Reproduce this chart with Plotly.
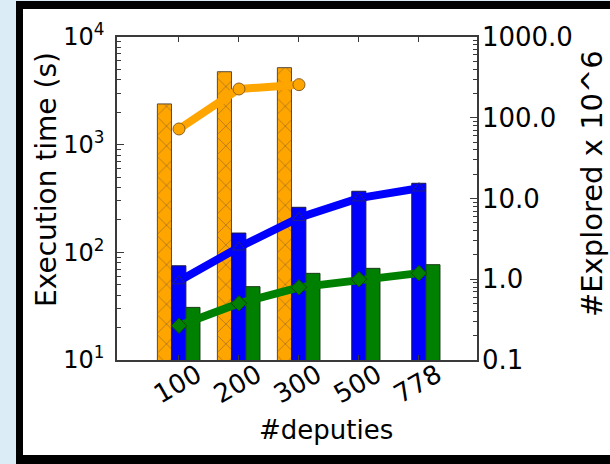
import numpy as np
import plotly.graph_objects as go

# deputies counts on the x axis
deputies = ["100", "200", "300", "500", "778"]

# execution time in seconds (left, log axis)
time_orange = [2390, 4760, 5190, None, None]
time_blue = [75, 151, 262, 369, 438]
time_green = [30.8, 48, 63.8, 71, 76.8]

# explored states, in millions (right, log axis)
explored_orange = [72.6, 227, 257, None, None]
explored_blue = [0.95, 2.49, 5.79, 10.1, 13.4]
explored_green = [0.266, 0.504, 0.794, 1.0, 1.19]

x = list(range(len(deputies)))

ORANGE = "#ffa500"
BLUE = "#0000ff"
GREEN = "#008000"
AXIS = "#3a3a3a"
FONT = "DejaVu Sans"

# plot area in pixels, used to place the slide frame around the chart
W, H = 610, 464
L, R, T, B = 117, 477, 37, 360


def px(xp):
    return (xp - L) / (R - L)


def py(yp):
    return (B - yp) / (B - T)


fig = go.Figure()

bar_w = 0.235
fig.add_trace(go.Bar(
    x=x, y=time_orange, width=bar_w, offset=-0.36, yaxis="y",
    marker=dict(color=ORANGE, line=dict(color="#5a4a3a", width=1),
                pattern=dict(shape="x", size=14, solidity=0.1,
                             fgcolor="#96682a", fgopacity=0.9, bgcolor=ORANGE)),
    showlegend=False))
fig.add_trace(go.Bar(
    x=x, y=time_blue, width=bar_w, offset=-0.12, yaxis="y",
    marker=dict(color=BLUE, line=dict(color="#1a1a40", width=1)),
    showlegend=False))
fig.add_trace(go.Bar(
    x=x, y=time_green, width=bar_w, offset=0.115, yaxis="y",
    marker=dict(color=GREEN, line=dict(color="#1a3a1a", width=1)),
    showlegend=False))

fig.add_trace(go.Scatter(
    x=x, y=explored_orange, yaxis="y2", mode="lines+markers",
    line=dict(color=ORANGE, width=8),
    marker=dict(symbol="circle", size=12, color=ORANGE,
                line=dict(color="#8a6020", width=1)),
    showlegend=False))
fig.add_trace(go.Scatter(
    x=x, y=explored_blue, yaxis="y2", mode="lines+markers",
    line=dict(color=BLUE, width=8),
    marker=dict(symbol="triangle-up", size=11, color=BLUE,
                line=dict(color="#202080", width=1)),
    showlegend=False))
fig.add_trace(go.Scatter(
    x=x, y=explored_green, yaxis="y2", mode="lines+markers",
    line=dict(color=GREEN, width=8),
    marker=dict(symbol="diamond", size=12, color=GREEN,
                line=dict(color="#104010", width=1)),
    showlegend=False))

minor_left = [k * 10 ** d for d in range(1, 4) for k in range(2, 10)]
minor_right = [k * 10.0 ** d for d in range(-1, 3) for k in range(2, 10)]

shapes = [
    # dark slide frame
    dict(type="rect", xref="paper", yref="paper", layer="below",
         x0=px(16), x1=px(W + 10), y0=py(1), y1=py(H + 10),
         fillcolor="#000000", line=dict(width=0)),
    dict(type="rect", xref="paper", yref="paper", layer="below",
         x0=px(23), x1=px(W + 10), y0=py(9), y1=py(455),
         fillcolor="#ffffff", line=dict(width=0)),
]

annotations = [
    dict(text="#deputies", xref="paper", yref="paper", x=px(326), y=py(430),
         xanchor="center", yanchor="middle", showarrow=False,
         font=dict(family=FONT, size=26, color="#000000")),
    dict(text="Execution time (s)", xref="paper", yref="paper",
         x=px(46), y=py(180), textangle=-90,
         xanchor="center", yanchor="middle", showarrow=False,
         font=dict(family=FONT, size=28, color="#000000")),
    dict(text="#Explored x 10^6", xref="paper", yref="paper",
         x=px(592), y=py(184), textangle=-90,
         xanchor="center", yanchor="middle", showarrow=False,
         font=dict(family=FONT, size=29, color="#000000")),
]

fig.update_layout(
    width=W, height=H,
    margin=dict(l=L, r=W - R, t=T, b=H - B, autoexpand=False),
    paper_bgcolor="#dbecf6",
    plot_bgcolor="#ffffff",
    barmode="overlay",
    font=dict(family=FONT, color="#000000", size=26),
    shapes=shapes,
    annotations=annotations,
    xaxis=dict(
        range=[-1.033, 4.967], tickmode="array", tickvals=x, ticktext=deputies,
        tickangle=-30, ticks="inside", ticklen=5, tickcolor=AXIS,
        showline=True, linecolor=AXIS, linewidth=1.5, mirror="ticks",
        showgrid=False, zeroline=False,
        ticklabelshift=18, ticklabelstandoff=-12,
        tickfont=dict(size=26),
    ),
    yaxis=dict(
        type="log", range=[1, 4], tickmode="array",
        tickvals=[10, 100, 1000, 10000],
        ticktext=["10<sup>1</sup>", "10<sup>2</sup>", "10<sup>3</sup>", "10<sup>4</sup>"],
        ticks="inside", ticklen=7, tickcolor=AXIS,
        minor=dict(tickmode="array", tickvals=minor_left, ticks="inside",
                   ticklen=4, tickcolor=AXIS, showgrid=False),
        showline=True, linecolor=AXIS, linewidth=1.5,
        showgrid=False, zeroline=False, ticklabelstandoff=6,
        tickfont=dict(size=24),
    ),
    yaxis2=dict(
        type="log", range=[-1, 3], overlaying="y", side="right",
        tickmode="array", tickvals=[0.1, 1, 10, 100, 1000],
        ticktext=["0.1", "1.0", "10.0", "100.0", "1000.0"],
        ticks="inside", ticklen=7, tickcolor=AXIS,
        minor=dict(tickmode="array", tickvals=minor_right, ticks="inside",
                   ticklen=4, tickcolor=AXIS, showgrid=False),
        showline=True, linecolor=AXIS, linewidth=1.5,
        showgrid=False, zeroline=False, ticklabelstandoff=-2,
        tickfont=dict(size=26),
    ),
)

fig.write_html("out.html")
